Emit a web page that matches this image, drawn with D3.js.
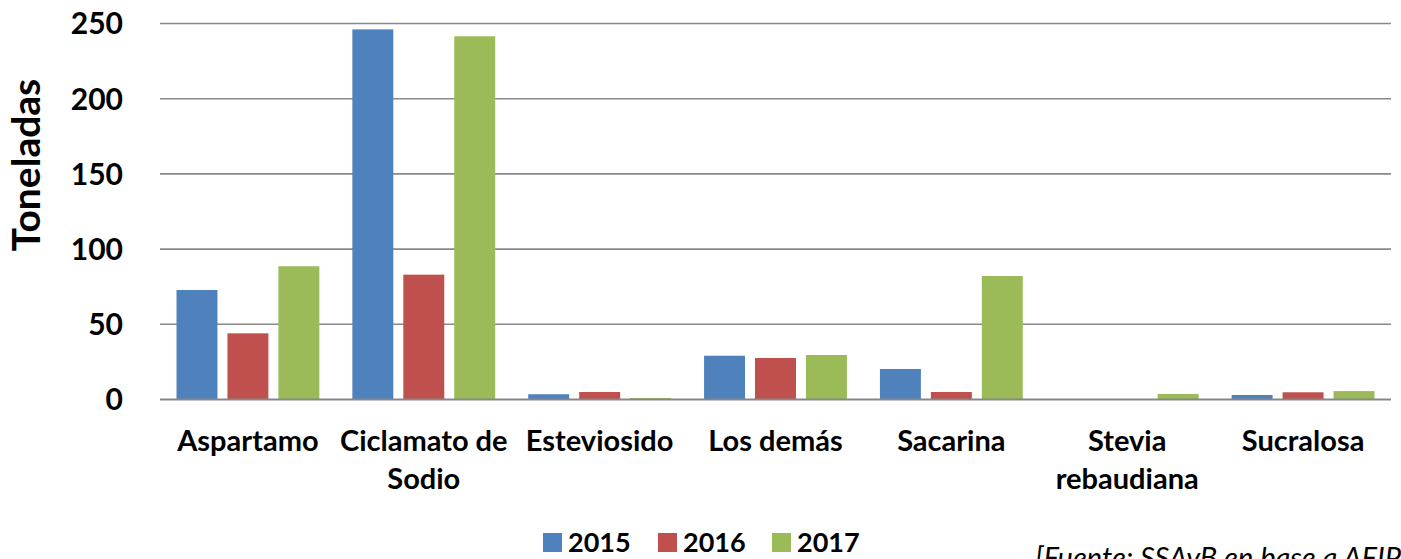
<!DOCTYPE html>
<html>
<head>
<meta charset="utf-8">
<script src="https://cdn.jsdelivr.net/npm/d3@7"></script>
<style>
  body { margin: 0; background: #fff; }
  svg { display: block; font-family: Lato, "Open Sans", sans-serif; }
</style>
</head>
<body>
<div class="chart-container"></div>
<script>
// data
const categories = ['Aspartamo', 'Ciclamato de Sodio', 'Esteviosido', 'Los demás', 'Sacarina', 'Stevia rebaudiana', 'Sucralosa'];
const categoryLabels = [['Aspartamo'], ['Ciclamato de', 'Sodio'], ['Esteviosido'], ['Los demás'], ['Sacarina'], ['Stevia', 'rebaudiana'], ['Sucralosa']];
const years = ['2015', '2016', '2017'];
const values2015 = [72.8, 246.1, 3.5, 29.1, 20.3, 0, 3.0];
const values2016 = [44.0, 83.0, 5.0, 27.6, 5.0, 0, 4.8];
const values2017 = [88.6, 241.5, 1.0, 29.6, 82.1, 3.7, 5.6];
const yTicks = [0, 50, 100, 150, 200, 250];
const colors = ['#4F81BD', '#C0504D', '#9BBB59'];

const series = [values2015, values2016, values2017];

const width = 1401;
const height = 559;
const marginLeft = 160;
const marginRight = 10;
const marginTop = 23.5;
const plotBottom = 399.5;

const x0 = d3.scaleBand()
    .domain(categories)
    .range([marginLeft, width - marginRight]);

const x1 = d3.scaleBand()
    .domain(years)
    .range([16.5, x0.bandwidth() - 16.5])
    .paddingInner(0.196);

const y = d3.scaleLinear()
    .domain([0, 250])
    .range([plotBottom, marginTop]);

const color = d3.scaleOrdinal().domain(years).range(colors);

const svg = d3.select('.chart-container').append('svg')
    .attr('width', width)
    .attr('height', height);

// gridlines
svg.append('g')
    .selectAll('line')
    .data(yTicks.filter(d => d > 0))
    .enter()
    .append('line')
    .attr('x1', marginLeft)
    .attr('x2', width - marginRight)
    .attr('y1', d => y(d))
    .attr('y2', d => y(d))
    .attr('stroke', '#898989')
    .attr('stroke-width', 1.6);

// y tick labels
svg.append('g')
    .selectAll('text')
    .data(yTicks)
    .enter()
    .append('text')
    .attr('x', 123)
    .attr('y', d => y(d))
    .attr('dy', '0.36em')
    .attr('text-anchor', 'end')
    .attr('font-size', 30)
    .attr('font-weight', 'bold')
    .attr('fill', '#000')
    .text(d => d);

// y title
svg.append('text')
    .attr('transform', `translate(40,165) rotate(-90)`)
    .attr('text-anchor', 'middle')
    .attr('font-size', 39)
    .attr('font-weight', 'bold')
    .text('Toneladas');

// bars
const groups = svg.append('g')
    .selectAll('g')
    .data(categories)
    .enter()
    .append('g')
    .attr('transform', d => `translate(${x0(d)},0)`);

groups.selectAll('rect')
    .data((d, i) => years.map((yr, j) => ({ year: yr, value: series[j][i] })))
    .enter()
    .append('rect')
    .attr('x', d => x1(d.year))
    .attr('y', d => y(d.value))
    .attr('width', x1.bandwidth())
    .attr('height', d => y(0) - y(d.value))
    .attr('fill', d => color(d.year));

// baseline
svg.append('line')
    .attr('x1', marginLeft)
    .attr('x2', width - marginRight)
    .attr('y1', y(0))
    .attr('y2', y(0))
    .attr('stroke', '#878787')
    .attr('stroke-width', 2);

// category labels
const catLabels = svg.append('g')
    .selectAll('text')
    .data(categories)
    .enter()
    .append('text')
    .attr('text-anchor', 'middle')
    .attr('font-size', 29)
    .attr('font-weight', 'bold');

catLabels.selectAll('tspan')
    .data((d, i) => categoryLabels[i])
    .enter()
    .append('tspan')
    .attr('x', function () { const c = d3.select(this.parentNode).datum(); return x0(c) + x0.bandwidth() / 2; })
    .attr('y', (d, i) => 451 + i * 38)
    .text(d => d);

// legend
const legendX = [543, 658, 772];
const legend = svg.append('g');
years.forEach((yr, i) => {
    legend.append('rect')
        .attr('x', legendX[i])
        .attr('y', 533)
        .attr('width', 19)
        .attr('height', 19)
        .attr('fill', color(yr));
    legend.append('text')
        .attr('x', legendX[i] + 25)
        .attr('y', 552)
        .attr('font-size', 27)
        .attr('font-weight', 'bold')
        .text(yr);
});

// source (cut off at the bottom edge, as in the original)
svg.append('text')
    .attr('x', 1035)
    .attr('y', 568)
    .attr('font-size', 29)
    .attr('font-style', 'italic')
    .text('[Fuente: SSAyB en base a AFIP]');
</script>
</body>
</html>
